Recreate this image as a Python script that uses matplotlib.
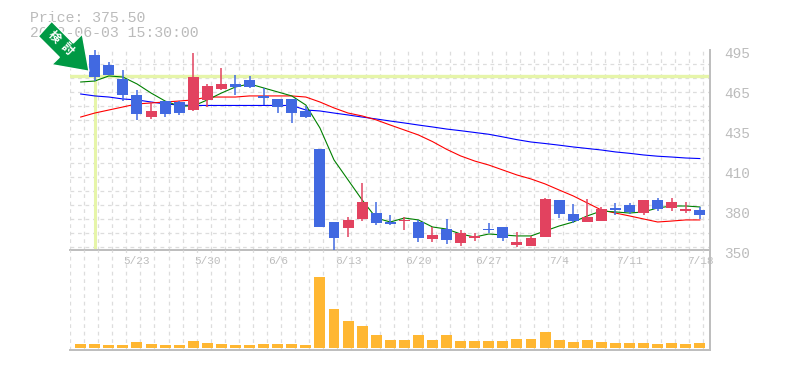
import numpy as np
import matplotlib
matplotlib.use("Agg")
import matplotlib.pyplot as plt
from matplotlib.patches import Polygon
from matplotlib.transforms import ScaledTranslation

nan = float("nan")
opens = [nan,491.4,484.1,474,462.4,446.4,458,457.3,451.5,458.8,466.7,470.4,473.3,461.7,459.5,459.5,450.8,
         423.2,370.3,366,372.5,376.8,370.3,371,370.3,358,365.2,355.1,358.7,364.5,366.7,353.6,352.9,
         359.4,386.3,376.1,370.3,371,380.5,382.6,376.8,386.3,380.5,378.3,379]
closes = [nan,475.4,476.9,462.4,448.6,450.8,448.6,449.3,475.4,468.9,470.4,468.2,468.2,460.2,453.7,449.3,446.4,
          366.7,358.7,371.8,384.8,369.6,368.9,371.2,358.7,360.9,357.3,362.3,360.2,364.3,358.7,355.8,358.7,
          387,376.1,371,373.9,379.7,379,377.6,386.3,379.7,384.8,379.7,375.4]
highs = [nan,495,486.3,480.5,466,457.3,458,458,492.8,470.4,482,476.9,476.2,467.5,459.5,459.5,454.4,
         423.2,370.3,373.9,398.6,384.8,375.4,373.9,371.8,366.7,372.5,364.5,362.3,369.6,366.7,363,360.2,
         387.7,386.3,383.4,387,381.2,384.1,384.1,386.3,387.7,387.7,384.8,381.2]
lows = [nan,472.5,476.9,458,444.3,445,446.4,447.9,450.8,453.7,466,462.4,467.5,455.1,449.3,442.1,445.7,
        366.7,350,359.4,371,368.1,368.1,364.5,355.8,355.8,354.4,352.9,356.5,362.3,356.5,352.2,352.9,
        359.4,373.2,369.6,370.3,371,375.4,376.1,375.4,378.3,378.3,376.8,372.5]
ma_short = [471.8,472.5,476.2,475.4,470.4,463.8,458,454.4,454.4,458.8,463.8,468.2,470.4,467.5,464.6,461.7,455.1,
            438.5,415.3,400.8,386.3,373.2,370.3,373.2,371.8,366.7,365.2,361.6,359.4,361.6,360.9,360.2,360.2,
            363.8,367.4,370.3,374.7,378.3,377.6,376.8,377.6,380.5,381.9,381.9,381.2]
ma_mid = [446.4,449.3,451.5,453.7,455.9,456.6,457.3,458,458.8,460.9,460.9,460.9,461.7,461.7,461.7,461.7,460.9,
          457.3,453,449.3,447.2,444.3,440.6,437,433.4,428.6,423,418.2,414.5,411.6,408,404.4,401.5,
          397.9,393.5,389.2,384.1,379,376.8,374.7,372.5,370.3,371,371.8,371.8]
ma_long = [463.1,461.7,460.9,459.5,458.8,457.3,455.9,455.1,454.8,454.8,454.8,454.8,454.8,454.8,454.8,454.8,451.5,
           450.8,449.3,447.9,446.4,445,443.5,442.1,440.6,439.2,437.7,436.5,435.2,433.9,432,430,428.3,
           427.2,426,424.7,423.6,422.5,421.1,420.1,418.9,418,417.4,416.7,416.3]
volume = [4,4,3,3,6,4,3,3,7,5,4,3,3,4,4,4,3,71,39,27,22,13,8,8,13,8,13,7,7,7,7,9,9,16,8,6,8,6,5,5,5,4,5,4,5]
date_labels = ["5/23","5/30","6/6","6/13","6/20","6/27","7/4","7/11","7/18"]
date_index = [4,9,14,19,24,29,34,39,44]
price_ticks = [350,379,408,437,466,495]
price_labels = ["350","380","410","435","465","495"]
last_price = "375.50"
timestamp = "2022-06-03 15:30:00"
signal_text = "検討"
signal_index = 1
signal_price = 475.8

W, H = 785, 370
UP, DOWN = "#E2425F", "#4169E1"
GRAY = "#bcbcbc"
HILITE = "#E6F5A9"
GRID = "#dddddd"
MONO = ["Liberation Mono", "DejaVu Sans Mono"]

fig = plt.figure(figsize=(W/100, H/100), dpi=100, facecolor="white")
ax = fig.add_axes([70/W, 1-250/H, 640/W, 200/H])
vx = fig.add_axes([70/W, 1-350/H, 640/W, 100/H])
x = np.arange(len(volume))
xl = (-0.76, 44.72)
grid_x = np.arange(-0.76, 44.72, 1.0)
grid_y = 352.2 + 10.2*np.arange(15)
gs = dict(color=GRID, lw=0.9, linestyle=(0, (3, 3)))

for a in (ax, vx):
    a.set_xlim(*xl)
    a.set_axisbelow(True)
    a.set_xticks(grid_x, minor=True)
    a.grid(which="minor", axis="x", **gs)
    a.tick_params(which="both", length=0)
    for s in a.spines.values():
        s.set_visible(False)
    a.patch.set_alpha(0)

ax.set_ylim(350, 495)
ax.set_yticks(grid_y, minor=True)
ax.grid(which="minor", axis="y", **gs)
ax.set_yticks(price_ticks, price_labels)
ax.yaxis.tick_right()
ax.tick_params(axis="y", which="major", pad=10, labelsize=10.4, labelcolor=GRAY)
off = ScaledTranslation(0, -3/100, fig.dpi_scale_trans)
for t in ax.get_yticklabels():
    t.set_fontfamily(MONO)
    t.set_transform(t.get_transform() + off)
ax.set_xticks(date_index, date_labels)
ax.tick_params(axis="x", which="major", pad=4, labelsize=8, labelcolor=GRAY)
for t in ax.get_xticklabels():
    t.set_fontfamily(MONO)
for s in ("right", "bottom"):
    ax.spines[s].set_visible(True)
    ax.spines[s].set_color("#bdbdbd")
    ax.spines[s].set_linewidth(1.4)

# signal highlight
ax.axhline(signal_price, color=HILITE, lw=2.4, zorder=1)
ax.vlines(signal_index, 351, signal_price, color=HILITE, lw=2.2, zorder=1)

# moving averages
for series, c in ((ma_long, "#0000ff"), (ma_mid, "#ff0000"), (ma_short, "#008000")):
    ax.plot(x, series, color=c, lw=0.8, zorder=2)

# candles
o, c_, h, l = map(np.array, (opens, closes, highs, lows))
colors = [UP if cc >= oo else DOWN for oo, cc in zip(o, c_)]
ax.vlines(x, l, h, colors=colors, lw=1.1, zorder=3)
ax.bar(x, np.maximum(np.abs(c_-o), 0.7), bottom=np.minimum(o, c_), width=0.78, color=colors, lw=0, zorder=4)

# volume
vx.set_ylim(-2, 98)
vx.set_yticks([])
vx.set_xticks([])
vx.bar(x, volume, width=0.78, color="#FFB732", lw=0, zorder=3)
for s in ("right", "bottom"):
    vx.spines[s].set_visible(True)
    vx.spines[s].set_color("#bdbdbd")
    vx.spines[s].set_linewidth(1.4)

# header text
fig.text(30/W, 1-18/H, "Price: "+last_price, family=MONO, fontsize=10.7, color="#bbbbbb", va="center", zorder=5)
fig.text(30/W, 1-33/H, timestamp, family=MONO, fontsize=10.7, color="#bbbbbb", va="center", zorder=5)

# signal arrow
pts = [(51.7,21.3),(38.3,36.3),(59.3,57.3),(51.7,64.7),(89,71.3),(82.3,34),(73.3,43)]
fig.patches.append(Polygon([(px/W, 1-py/H) for px, py in pts], closed=True, transform=fig.transFigure,
                           facecolor="#009944", edgecolor="white", lw=1.0, zorder=6, figure=fig))
for ch, (tx, ty) in zip(signal_text, [(54.5, 36.5), (67, 48.5)]):
    fig.text(tx/W, 1-ty/H, ch, family=["Noto Sans CJK JP", "DejaVu Sans"], fontsize=8.6, weight="bold",
             color="white", rotation=-45, rotation_mode="anchor", ha="center", va="center", zorder=7)

fig.savefig("out.png", dpi=100)
